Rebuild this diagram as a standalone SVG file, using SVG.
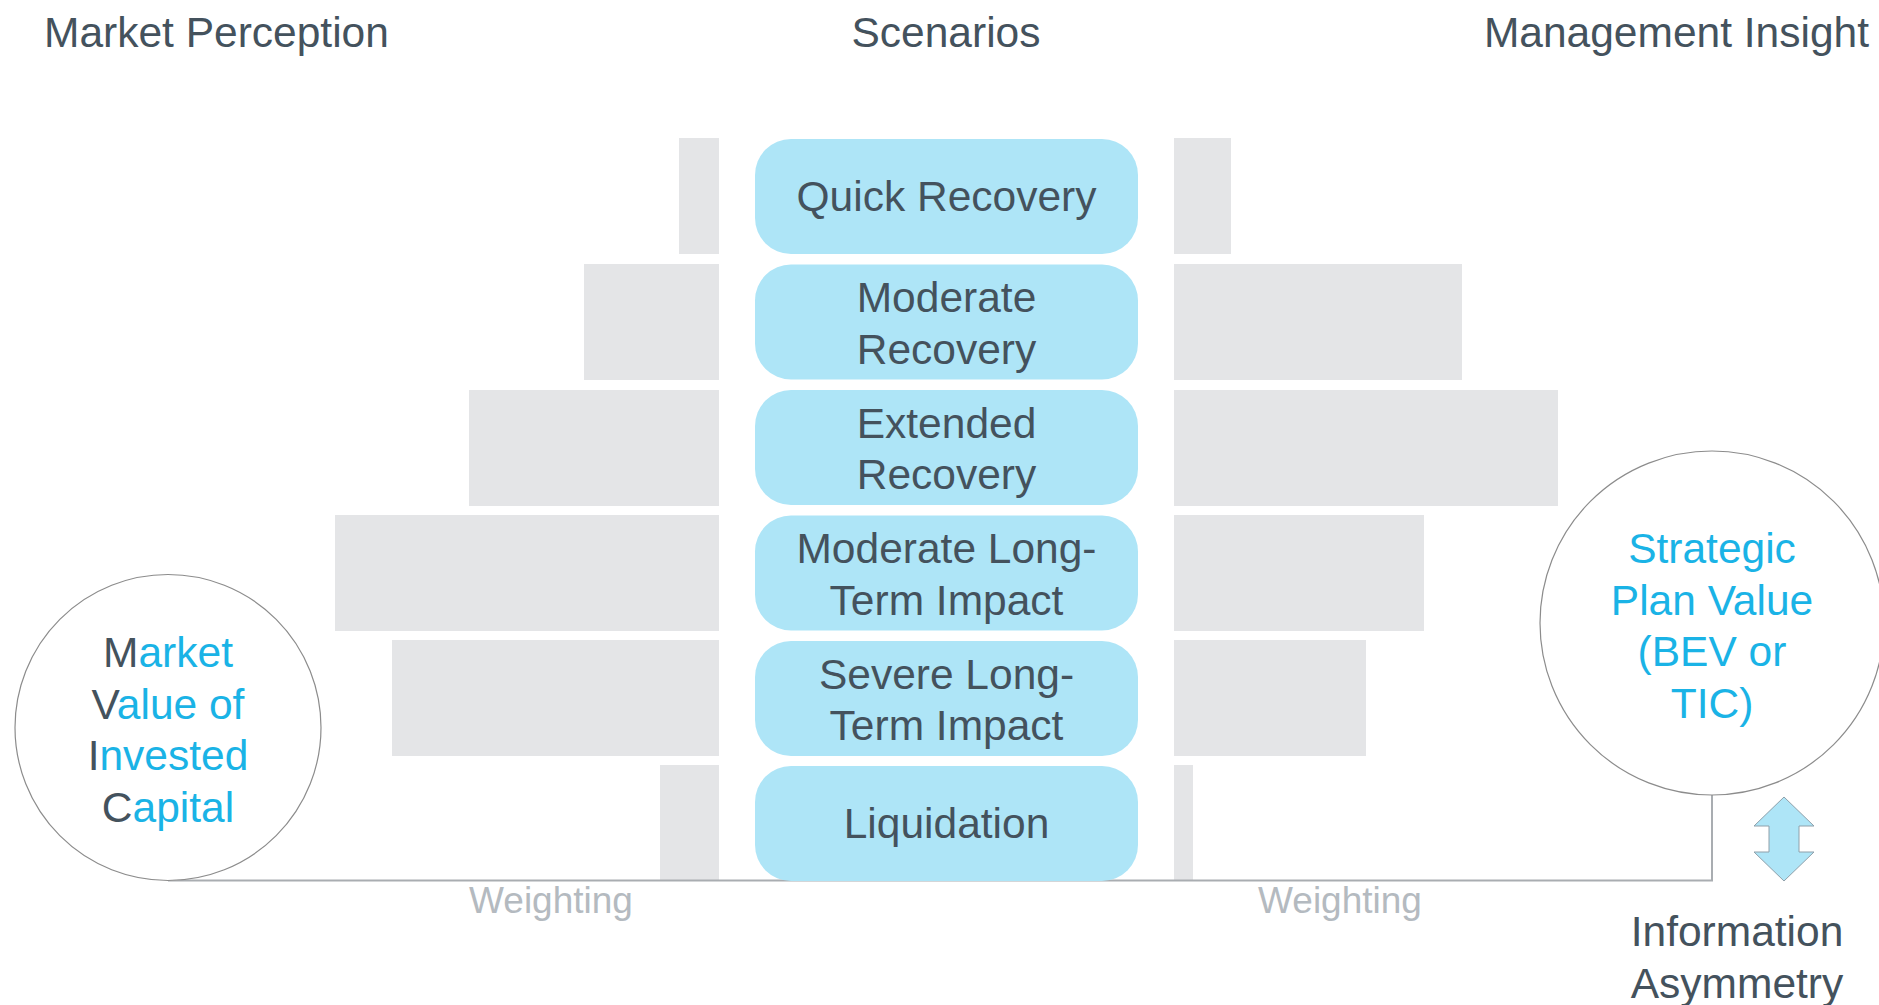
<svg xmlns="http://www.w3.org/2000/svg" width="1879" height="1005" viewBox="0 0 1879 1005">
<style>
text{font-family:"Liberation Sans",Arial,sans-serif;}
.t{font-size:42.5px;fill:#44525D;}
.c{font-size:42.5px;fill:#1AB3E6;}
.w{font-size:37px;fill:#B4BAC0;}
.bar{fill:#E4E5E7;}
.box{fill:#AEE5F7;}
.circ{fill:#FFFFFF;stroke:#8C8C8C;stroke-width:1.2;}
.conn{fill:none;stroke:#A9ADB1;stroke-width:2;}
</style>
<rect width="1879" height="1005" fill="#FFFFFF"/>
<g id="headers">
<text class="t" x="44" y="47">Market Perception</text>
<text class="t" x="946" y="47" text-anchor="middle">Scenarios</text>
<text class="t" x="1869" y="47" text-anchor="end">Management Insight</text>
</g>
<g id="weights-left">
<rect class="bar" x="679" y="138" width="40" height="116"/>
<rect class="bar" x="584" y="264" width="135" height="116"/>
<rect class="bar" x="469" y="390" width="250" height="116"/>
<rect class="bar" x="335" y="515" width="384" height="116"/>
<rect class="bar" x="392" y="640" width="327" height="116"/>
<rect class="bar" x="660" y="765" width="59" height="115"/>
</g>
<g id="weights-right">
<rect class="bar" x="1174" y="138" width="57" height="116"/>
<rect class="bar" x="1174" y="264" width="288" height="116"/>
<rect class="bar" x="1174" y="390" width="384" height="116"/>
<rect class="bar" x="1174" y="515" width="250" height="116"/>
<rect class="bar" x="1174" y="640" width="192" height="116"/>
<rect class="bar" x="1174" y="765" width="19" height="115"/>
</g>
<g id="connectors">
<polyline class="conn" points="168,880.5 1712,880.5 1712,795"/>
</g>
<g id="scenario-quick">
<rect class="box" x="755" y="139" width="383" height="115" rx="36" ry="36"/>
<text class="t" x="946.5" y="211" text-anchor="middle">Quick Recovery</text>
</g>
<g id="scenario-moderate">
<rect class="box" x="755" y="264.5" width="383" height="115" rx="36" ry="36"/>
<text class="t" x="946.5" y="312" text-anchor="middle">Moderate</text>
<text class="t" x="946.5" y="363.5" text-anchor="middle">Recovery</text>
</g>
<g id="scenario-extended">
<rect class="box" x="755" y="390" width="383" height="115" rx="36" ry="36"/>
<text class="t" x="946.5" y="437.5" text-anchor="middle">Extended</text>
<text class="t" x="946.5" y="489" text-anchor="middle">Recovery</text>
</g>
<g id="scenario-moderate-lt">
<rect class="box" x="755" y="515.5" width="383" height="115" rx="36" ry="36"/>
<text class="t" x="946.5" y="563" text-anchor="middle">Moderate Long-</text>
<text class="t" x="946.5" y="614.5" text-anchor="middle">Term Impact</text>
</g>
<g id="scenario-severe-lt">
<rect class="box" x="755" y="641" width="383" height="115" rx="36" ry="36"/>
<text class="t" x="946.5" y="688.5" text-anchor="middle">Severe Long-</text>
<text class="t" x="946.5" y="740" text-anchor="middle">Term Impact</text>
</g>
<g id="scenario-liquidation">
<rect class="box" x="755" y="766" width="383" height="115" rx="36" ry="36"/>
<text class="t" x="946.5" y="838" text-anchor="middle">Liquidation</text>
</g>
<g id="market-value">
<circle class="circ" cx="168" cy="727.5" r="153"/>
<text class="c" x="168" y="667" text-anchor="middle"><tspan fill="#44525D">M</tspan>arket</text>
<text class="c" x="168" y="718.5" text-anchor="middle"><tspan fill="#44525D">V</tspan>alue of</text>
<text class="c" x="168" y="770" text-anchor="middle"><tspan fill="#44525D">I</tspan>nvested</text>
<text class="c" x="168" y="821.5" text-anchor="middle"><tspan fill="#44525D">C</tspan>apital</text>
</g>
<g id="strategic-plan">
<circle class="circ" cx="1712" cy="623" r="172"/>
<text class="c" x="1712" y="563" text-anchor="middle">Strategic</text>
<text class="c" x="1712" y="614.5" text-anchor="middle">Plan Value</text>
<text class="c" x="1712" y="666" text-anchor="middle">(BEV or</text>
<text class="c" x="1712" y="717.5" text-anchor="middle">TIC)</text>
</g>
<g id="weighting-labels">
<text class="w" x="551" y="913" text-anchor="middle">Weighting</text>
<text class="w" x="1340" y="913" text-anchor="middle">Weighting</text>
</g>
<g id="info-asymmetry">
<polygon points="1784,797 1814,826 1799,826 1799,852 1814,852 1784,881 1754,852 1769,852 1769,826 1754,826" fill="#AEE5F7" stroke="#8FA0AA" stroke-width="1"/>
<text class="t" x="1737" y="946" text-anchor="middle">Information</text>
<text class="t" x="1737" y="997.5" text-anchor="middle">Asymmetry</text>
</g>
</svg>
